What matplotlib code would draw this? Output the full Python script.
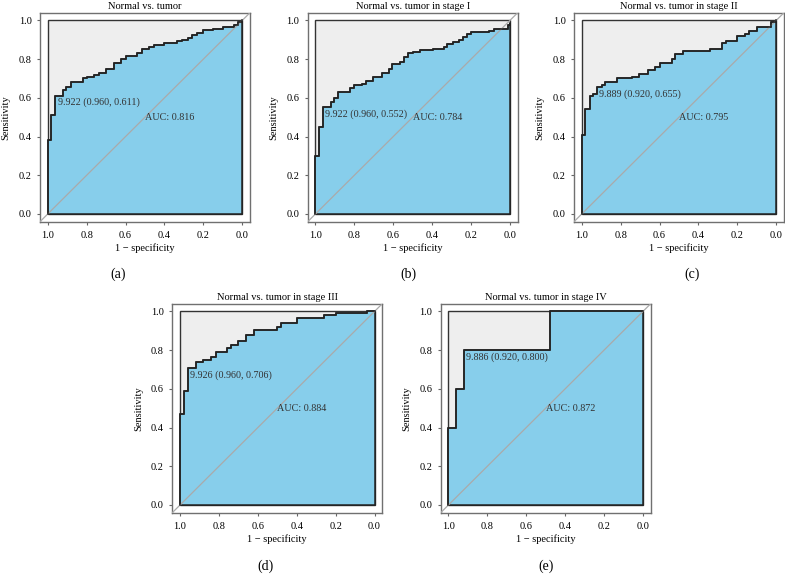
import matplotlib.pyplot as plt

plt.rcParams['font.family'] = ['Liberation Serif', 'DejaVu Serif']

# ROC steps: specificity where sensitivity jumps, and the level after the jump
spec_a = [1.0, 0.981, 0.964, 0.921, 0.906, 0.88, 0.82, 0.80, 0.76, 0.735, 0.70, 0.66, 0.624, 0.60,
          0.54, 0.516, 0.48, 0.456, 0.40, 0.337, 0.31, 0.28, 0.26, 0.234, 0.20, 0.15, 0.10, 0.04, 0.02, 0.0]
sens_a = [0.38, 0.51, 0.611, 0.643, 0.655, 0.681, 0.70, 0.707, 0.72, 0.73, 0.75, 0.78, 0.80, 0.815,
          0.83, 0.85, 0.865, 0.875, 0.885, 0.893, 0.90, 0.91, 0.925, 0.935, 0.95, 0.955, 0.965, 0.975, 0.99, 1.0]

spec_b = [1.0, 0.98, 0.962, 0.92, 0.904, 0.882, 0.82, 0.80, 0.76, 0.74, 0.703, 0.66, 0.62, 0.605, 0.566,
          0.544, 0.524, 0.50, 0.464, 0.396, 0.34, 0.324, 0.294, 0.263, 0.242, 0.222, 0.20, 0.11, 0.08,
          0.012, 0.0]
sens_b = [0.30, 0.448, 0.552, 0.58, 0.60, 0.628, 0.65, 0.665, 0.67, 0.685, 0.71, 0.73, 0.75, 0.775, 0.785,
          0.81, 0.83, 0.835, 0.848, 0.855, 0.865, 0.88, 0.89, 0.90, 0.915, 0.93, 0.94, 0.948, 0.958,
          0.975, 0.985]

spec_c = [1.0, 0.981, 0.96, 0.94, 0.92, 0.897, 0.88, 0.82, 0.74, 0.706, 0.658, 0.624, 0.60, 0.538, 0.52,
          0.48, 0.342, 0.28, 0.256, 0.20, 0.16, 0.14, 0.10, 0.026, 0.0]
sens_c = [0.41, 0.54, 0.609, 0.62, 0.655, 0.665, 0.68, 0.70, 0.71, 0.725, 0.745, 0.76, 0.78, 0.80, 0.825,
          0.84, 0.85, 0.885, 0.895, 0.92, 0.93, 0.945, 0.965, 0.99, 1.0]

spec_d = [1.0, 0.98, 0.96, 0.92, 0.88, 0.84, 0.817, 0.76, 0.74, 0.70, 0.66, 0.62, 0.50, 0.48, 0.398,
          0.26, 0.20, 0.04]
sens_d = [0.47, 0.59, 0.706, 0.74, 0.75, 0.765, 0.79, 0.81, 0.825, 0.845, 0.88, 0.905, 0.92, 0.94, 0.965,
          0.98, 0.99, 1.0]

spec_e = [1.0, 0.96, 0.92, 0.48]
sens_e = [0.4, 0.6, 0.8, 1.0]

titles = ["Normal vs. tumor", "Normal vs. tumor in stage I", "Normal vs. tumor in stage II",
          "Normal vs. tumor in stage III", "Normal vs. tumor in stage IV"]
thresholds = [(9.922, 0.960, 0.611), (9.922, 0.960, 0.552), (9.889, 0.920, 0.655),
              (9.926, 0.960, 0.706), (9.886, 0.920, 0.800)]
aucs = [0.816, 0.784, 0.795, 0.884, 0.872]
panel_tags = ["(a)", "(b)", "(c)", "(d)", "(e)"]

W, H = 785, 583
frames = [(40, 221.7), (307.7, 221.7), (574, 221.7), (172.3, 512.7), (440.7, 512.7)]
tag_pos = [(118, 274), (408, 274), (692, 274), (265, 566), (546, 566)]


def roc_steps(spec, sens):
    xs, ys = [spec[0]], [0.0]
    for i in range(len(spec)):
        xs.append(spec[i])
        ys.append(sens[i])
        nxt = spec[i + 1] if i + 1 < len(spec) else 0.0
        xs.append(nxt)
        ys.append(sens[i])
    return xs, ys


fig = plt.figure(figsize=(W / 100, H / 100), dpi=100)
curves = [(spec_a, sens_a), (spec_b, sens_b), (spec_c, sens_c), (spec_d, sens_d), (spec_e, sens_e)]

for k, (spec, sens) in enumerate(curves):
    left, bottom = frames[k]
    ax = fig.add_axes([left / W, (H - bottom) / H, 210 / W, 209 / H])
    ax.set_xlim(1.04, -0.04)
    ax.set_ylim(-0.04, 1.04)

    # max AUC square and AUC polygon
    ax.fill([1, 1, 0, 0], [0, 1, 1, 0], fc='#EEEEEE', ec='#333333', lw=1.0, zorder=1)
    xs, ys = roc_steps(spec, sens)
    ax.fill(xs + [0.0], ys + [0.0], fc='#87CEEB', ec='#222222', lw=1.1, zorder=2)
    ax.axline((1, 0), (0, 1), color='#AAAAAA', lw=0.9, zorder=3)
    ax.plot(xs, ys, color='#222222', lw=1.1, zorder=4)

    thr, sp, se = thresholds[k]
    ax.annotate(f"{thr:.3f} ({sp:.3f}, {se:.3f})", xy=(sp, se), xytext=(1.5, -1.5),
                textcoords='offset points', ha='left', va='top', fontsize=7.3, color='#333333', zorder=5)
    ax.text(0.5, 0.5, f"AUC: {aucs[k]:.3f}", ha='left', va='center', fontsize=7.3, color='#333333', zorder=5)

    ax.set_xticks([1.0, 0.8, 0.6, 0.4, 0.2, 0.0])
    ax.set_xticklabels(['1.0', '0.8', '0.6', '0.4', '0.2', '0.0'])
    ax.set_yticks([0.0, 0.2, 0.4, 0.6, 0.8, 1.0])
    ax.set_yticklabels(['0.0', '0.2', '0.4', '0.6', '0.8', '1.0'])
    ax.tick_params(axis='x', length=2, pad=5, labelsize=7.5, color='#666666')
    ax.tick_params(axis='y', length=2, pad=4, labelsize=7.5, color='#666666')
    for s in ax.spines.values():
        s.set_color('#707070')
        s.set_linewidth(1.0)

    ax.set_title(titles[k], fontsize=7.5, pad=3)
    ax.set_xlabel("1 \u2212 specificity", fontsize=7.5)
    ax.xaxis.set_label_coords(0.5, -0.105)
    ax.set_ylabel("Sensitivity", fontsize=7.5)
    ax.yaxis.set_label_coords(-0.14, 0.5)

    tx, ty = tag_pos[k]
    fig.text(tx / W, 1 - ty / H, panel_tags[k], ha='center', va='center', fontsize=10)

fig.savefig("out.png", dpi=100)
